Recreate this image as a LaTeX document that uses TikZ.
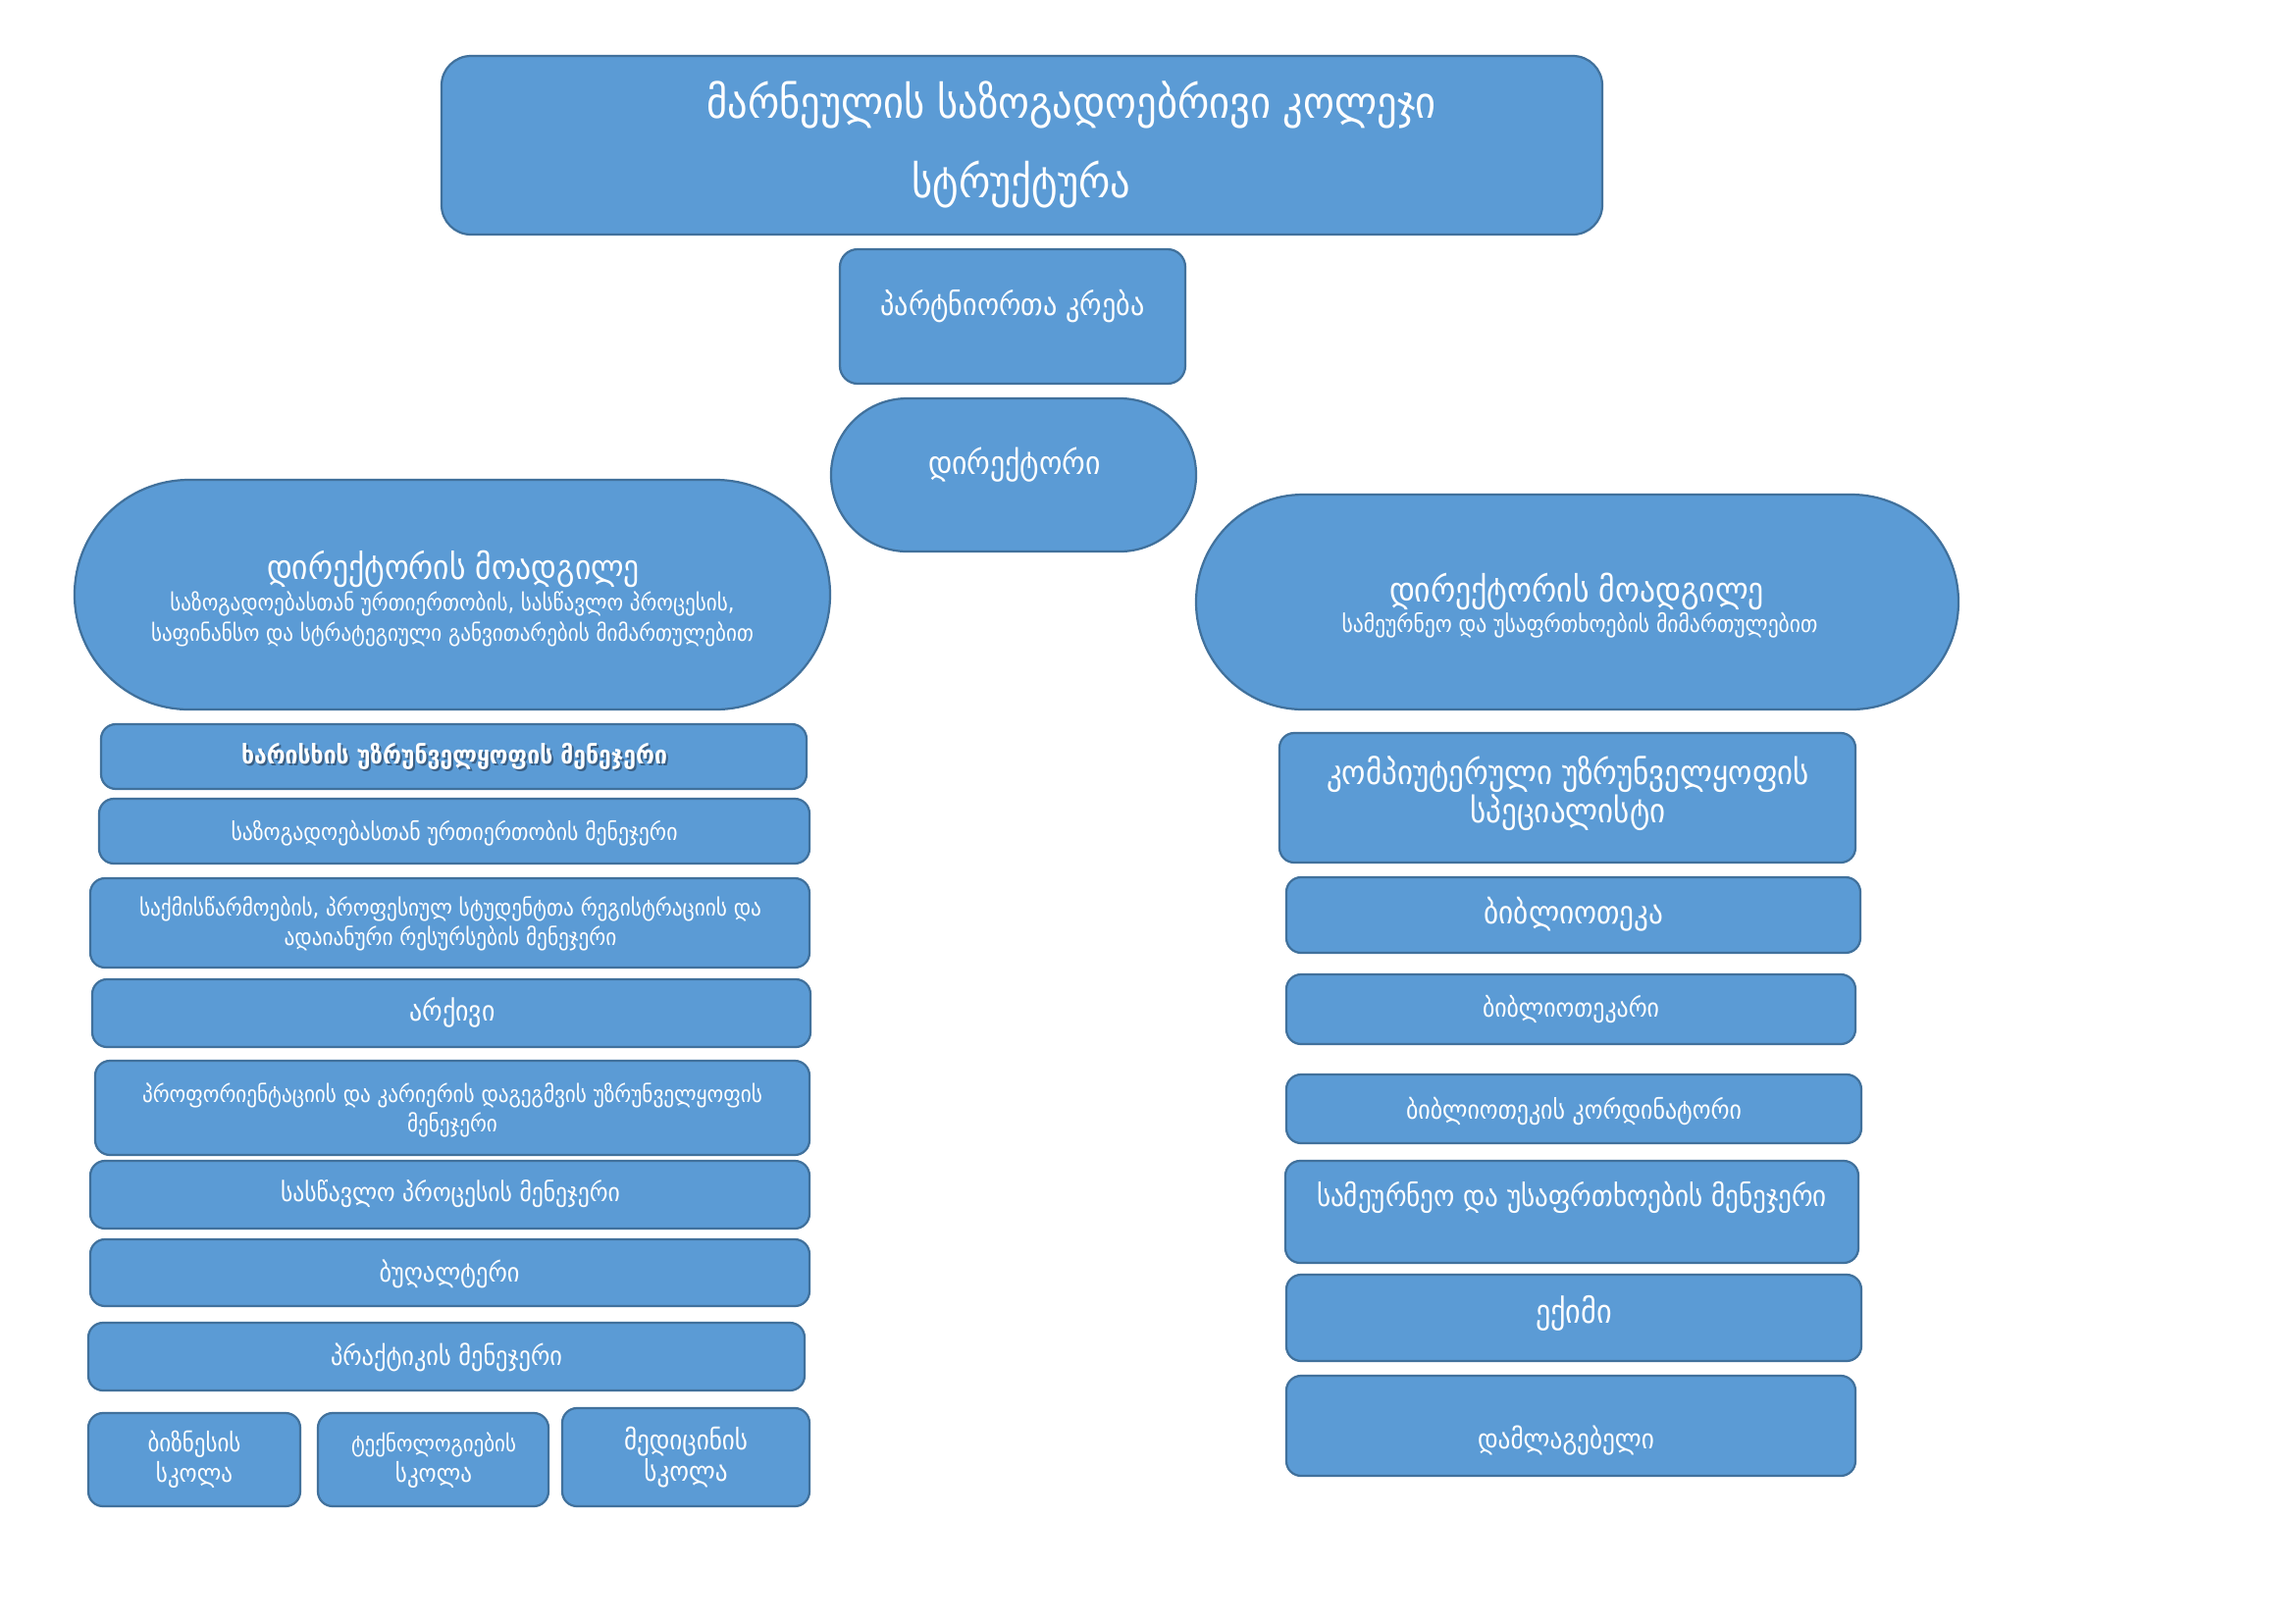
\documentclass[tikz,border=0pt]{standalone}
\usepackage{fontspec}
\setmainfont{DejaVu Sans Condensed}
\usetikzlibrary{fit}
\definecolor{boxfill}{HTML}{5B9BD5}
\definecolor{boxline}{HTML}{41719C}
\definecolor{shadowtxt}{HTML}{3A5F85}
\newlength\fitlen
% set text #3 at the size that makes sample #2 be #1 px wide
\newcommand\fitlike[3]{\settowidth\fitlen{\fontsize{10pt}{12pt}\selectfont #2}\pgfmathsetmacro\fitsz{3.6*#1/\fitlen}\fontsize{\fitsz pt}{\fitsz pt}\selectfont #3}
\newcommand\fitto[2]{\fitlike{#1}{#2}{#2}}
\tikzset{
  orgbox/.style={draw=boxline, fill=boxfill, line width=0.8pt, inner sep=0pt, rounded corners=5.4pt},
  txt/.style={text=white, inner sep=0pt, anchor=center},
}
\begin{document}
\begin{tikzpicture}[x=0.36pt,y=-0.36pt]
\useasboundingbox (0,0) rectangle (2339,1654);
% top
\node[orgbox, rounded corners=10.8pt, fit={(450,57) (1633,239)}] (title) {};
\node[txt] (t1a) at (1092,107) {\fitto{743}{მარნეულის საზოგადოებრივი კოლეჯი}};
\node[txt] (t1b) at (1041,188) {\fitlike{743}{მარნეულის საზოგადოებრივი კოლეჯი}{სტრუქტურა}};
\node[orgbox, rounded corners=6.5pt, fit={(856,254) (1208,391)}] (partners) {};
\node[txt] (t2) at (1032,312) {\fitto{269}{პარტნიორთა კრება}};
\node[orgbox, rounded corners=28pt, fit={(847,406) (1219,562)}] (director) {};
\node[txt] (t3) at (1034,474) {\fitto{176}{დირექტორი}};
% deputies
\node[orgbox, rounded corners=42pt, fit={(76,489) (846,723)}] (depL) {};
\node[txt] (t4a) at (462,580) {\fitto{380}{დირექტორის მოადგილე}};
\node[txt] (t4b) at (461,615) {\fitlike{614}{საფინანსო და სტრატეგიული განვითარების მიმართულებით}{საზოგადოებასთან ურთიერთობის, სასწავლო პროცესის,}};
\node[txt] (t4c) at (461,646) {\fitto{614}{საფინანსო და სტრატეგიული განვითარების მიმართულებით}};
\node[orgbox, rounded corners=39.3pt, fit={(1219,504) (1996,723)}] (depR) {};
\node[txt] (t5a) at (1607,603) {\fitto{382}{დირექტორის მოადგილე}};
\node[txt] (t5b) at (1610,637) {\fitto{485}{სამეურნეო და უსაფრთხოების მიმართულებით}};
% left column
\node[orgbox, fit={(103,738) (822,804)}] (L1) {};
\node[txt, text=shadowtxt] (t6s) at (465,773) {\fitto{434}{\bfseries ხარისხის უზრუნველყოფის  მენეჯერი}};
\node[txt] (t6) at (463,771) {\fitto{434}{\bfseries ხარისხის უზრუნველყოფის  მენეჯერი}};
\node[orgbox, fit={(101,814) (825,880)}] (L2) {};
\node[txt] (t7) at (463,849) {\fitto{455}{საზოგადოებასთან ურთიერთობის მენეჯერი}};
\node[orgbox, fit={(92,895) (825,986)}] (L3) {};
\node[txt] (t8a) at (459,926) {\fitto{634}{საქმისწარმოების, პროფესიულ სტუდენტთა რეგისტრაციის და}};
\node[txt] (t8b) at (459,956) {\fitlike{634}{საქმისწარმოების, პროფესიულ სტუდენტთა რეგისტრაციის და}{ადაიანური რესურსების მენეჯერი}};
\node[orgbox, fit={(94,998) (826,1067)}] (L4) {};
\node[txt] (t9) at (461,1032) {\fitto{87}{არქივი}};
\node[orgbox, fit={(97,1081) (825,1177)}] (L5) {};
\node[txt] (t10a) at (461,1116) {\fitto{632}{პროფორიენტაციის და კარიერის დაგეგმვის უზრუნველყოფის}};
\node[txt] (t10b) at (461,1146) {\fitlike{632}{პროფორიენტაციის და კარიერის დაგეგმვის უზრუნველყოფის}{მენეჯერი}};
\node[orgbox, fit={(92,1183) (825,1252)}] (L6) {};
\node[txt] (t11) at (459,1217) {\fitto{346}{სასწავლო პროცესის მენეჯერი}};
\node[orgbox, fit={(92,1263) (825,1331)}] (L7) {};
\node[txt] (t12) at (458,1298) {\fitto{143}{ბუღალტერი}};
\node[orgbox, fit={(90,1348) (820,1417)}] (L8) {};
\node[txt] (t13) at (455,1383) {\fitto{236}{პრაქტიკის მენეჯერი}};
\node[orgbox, fit={(90,1440) (306,1535)}] (S1) {};
\node[txt] (t14a) at (198,1472) {\fitto{95}{ბიზნესის}};
\node[txt] (t14b) at (198,1503) {\fitlike{95}{ბიზნესის}{სკოლა}};
\node[orgbox, fit={(324,1440) (559,1535)}] (S2) {};
\node[txt] (t15a) at (442,1472) {\fitto{168}{ტექნოლოგიების}};
\node[txt] (t15b) at (442,1503) {\fitlike{95}{ბიზნესის}{სკოლა}};
\node[orgbox, fit={(573,1435) (825,1535)}] (S3) {};
\node[txt] (t16a) at (699,1469) {\fitto{126}{მედიცინის}};
\node[txt] (t16b) at (699,1501) {\fitlike{126}{მედიცინის}{სკოლა}};
% right column
\node[orgbox, fit={(1304,747) (1891,879)}] (R1) {};
\node[txt] (t17a) at (1598,789) {\fitto{492}{კომპიუტერული უზრუნველყოფის}};
\node[txt] (t17b) at (1598,828) {\fitlike{492}{კომპიუტერული უზრუნველყოფის}{სპეციალისტი}};
\node[orgbox, fit={(1311,894) (1896,971)}] (R2) {};
\node[txt] (t18) at (1604,932) {\fitto{183}{ბიბლიოთეკა}};
\node[orgbox, fit={(1311,993) (1891,1064)}] (R3) {};
\node[txt] (t19) at (1601,1029) {\fitto{180}{ბიბლიოთეკარი}};
\node[orgbox, fit={(1311,1095) (1897,1165)}] (R4) {};
\node[txt] (t20) at (1604,1132) {\fitto{342}{ბიბლიოთეკის კორდინატორი}};
\node[orgbox, fit={(1310,1183) (1894,1287)}] (R5) {};
\node[txt] (t21) at (1602,1220) {\fitto{520}{სამეურნეო და უსაფრთხოების მენეჯერი}};
\node[orgbox, fit={(1311,1299) (1897,1387)}] (R6) {};
\node[txt] (t22) at (1604,1338) {\fitto{78}{ექიმი}};
\node[orgbox, fit={(1311,1402) (1891,1504)}] (R7) {};
\node[txt] (t23) at (1596,1468) {\fitto{180}{დამლაგებელი}};
\end{tikzpicture}
\end{document}
